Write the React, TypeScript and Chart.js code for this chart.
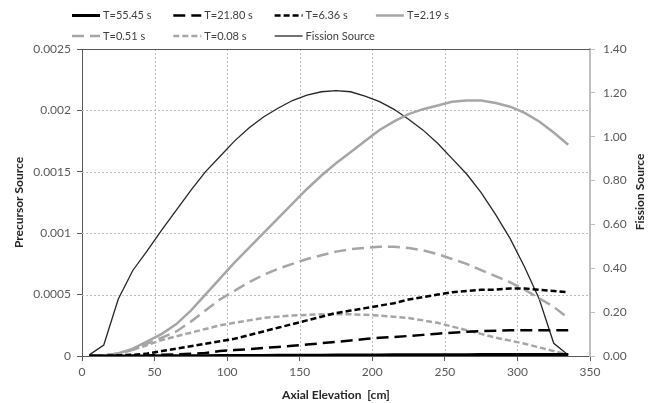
import React, { useEffect, useRef } from 'react';
import { Chart, registerables } from 'chart.js';

Chart.register(...registerables);

const FONT = 'Lato, "Open Sans", sans-serif';

const elevation = [5, 15, 25, 35, 45, 55, 65, 75, 85, 95, 105, 115, 125, 135, 145, 155, 165, 175, 185, 195, 205, 215, 225, 235, 245, 255, 265, 275, 285, 295, 305, 315, 325, 335];

const t5545 = [0, 0, 0, 0.000001, 0.000001, 0.000002, 0.000002, 0.000003, 0.000003, 0.000004, 0.000004, 0.000005, 0.000005, 0.000006, 0.000006, 0.000007, 0.000007, 0.000008, 0.000008, 0.000009, 0.000009, 0.00001, 0.00001, 0.00001, 0.000011, 0.000011, 0.000011, 0.000012, 0.000012, 0.000012, 0.000012, 0.000012, 0.000012, 0.000012];
const t2180 = [0, 0, 0, 0.000002, 0.000005, 0.00001, 0.000013, 0.000018, 0.000025, 0.00004, 0.000048, 0.000056, 0.000065, 0.000074, 0.000083, 0.000093, 0.000104, 0.000115, 0.000126, 0.000138, 0.000148, 0.000155, 0.000163, 0.000172, 0.000182, 0.00019, 0.000197, 0.000202, 0.000206, 0.000209, 0.00021, 0.00021, 0.00021, 0.00021];
const t636 = [0, 0, 0.000005, 0.00001, 0.00002, 0.00004, 0.00006, 0.00008, 0.0001, 0.00012, 0.00014, 0.00017, 0.0002, 0.00023, 0.00026, 0.00029, 0.00032, 0.00035, 0.00037, 0.00039, 0.00041, 0.00043, 0.00046, 0.00048, 0.0005, 0.00052, 0.00053, 0.00054, 0.00054, 0.00055, 0.00055, 0.00054, 0.00053, 0.00052];
const t219 = [0, 0.000005, 0.00002, 0.00006, 0.00012, 0.00018, 0.00026, 0.00037, 0.0005, 0.00063, 0.00076, 0.00088, 0.001, 0.00112, 0.00124, 0.00136, 0.00147, 0.00157, 0.00166, 0.00175, 0.00184, 0.00191, 0.00197, 0.00201, 0.00204, 0.00207, 0.00208, 0.00208, 0.00206, 0.00203, 0.00198, 0.00191, 0.00182, 0.00172];
const t051 = [0, 0.000005, 0.00002, 0.00005, 0.0001, 0.00015, 0.0002, 0.00028, 0.00037, 0.00046, 0.00053, 0.0006, 0.00066, 0.00071, 0.00075, 0.00079, 0.00082, 0.00085, 0.00087, 0.00088, 0.00089, 0.00089, 0.00088, 0.00086, 0.00083, 0.00079, 0.00075, 0.0007, 0.00065, 0.0006, 0.00054, 0.00047, 0.0004, 0.00031];
const t008 = [0, 0.000005, 0.00002, 0.00005, 0.00009, 0.00013, 0.00016, 0.00019, 0.00022, 0.00025, 0.00027, 0.00029, 0.00031, 0.00032, 0.00033, 0.000335, 0.00034, 0.00034, 0.00034, 0.000335, 0.00033, 0.00032, 0.00031, 0.00029, 0.00027, 0.00024, 0.00021, 0.00018, 0.00015, 0.000125, 0.0001, 0.00007, 0.00004, 0.00001];
const fission = [0.005, 0.05, 0.26, 0.39, 0.48, 0.575, 0.665, 0.755, 0.84, 0.91, 0.98, 1.04, 1.09, 1.13, 1.165, 1.19, 1.205, 1.21, 1.205, 1.185, 1.16, 1.125, 1.08, 1.03, 0.97, 0.9, 0.83, 0.745, 0.645, 0.535, 0.405, 0.26, 0.058, 0.005];

const seriesLabels = ['T=55.45 s', 'T=21.80 s', 'T=6.36 s', 'T=2.19 s', 'T=0.51 s', 'T=0.08 s', 'Fission Source'];
const leftTickLabels = ['0', '0.0005', '0.001', '0.0015', '0.002', '0.0025'];
const rightTickLabels = ['0.00', '0.20', '0.40', '0.60', '0.80', '1.00', '1.20', '1.40'];
const xTitle = 'Axial Elevation  [cm]';
const leftTitle = 'Precursor Source';
const rightTitle = 'Fission Source';

const BLACK = '#000000';
const GREY = '#a6a6a6';
const GRID = '#bdbdbd';

export default function App() {
  const ref = useRef<HTMLCanvasElement>(null);

  useEffect(() => {
    const canvas = ref.current;
    if (!canvas) return;
    const toXY = (vals: number[]) => vals.map((v, i) => ({ x: elevation[i], y: v }));

    const overlayPlugin = {
      id: 'overlay',
      beforeDatasetsDraw(chart: any) {
        const ctx = chart.ctx as CanvasRenderingContext2D;
        const { left, right, top, bottom } = chart.chartArea;
        const xs = chart.scales.x;
        const ys = chart.scales.y;
        ctx.save();
        ctx.lineWidth = 1;
        ctx.strokeStyle = GRID;
        ctx.setLineDash([2, 2]);
        xs.ticks.forEach((t: any) => {
          const px = Math.round(xs.getPixelForValue(t.value)) + 0.5;
          if (px <= left + 1 || px >= right - 1) return;
          ctx.beginPath();
          ctx.moveTo(px, top);
          ctx.lineTo(px, bottom);
          ctx.stroke();
        });
        ys.ticks.forEach((t: any, i: number) => {
          const py = Math.round(ys.getPixelForValue(t.value)) + 0.5;
          if (i === 0) return;
          ctx.beginPath();
          if (i === ys.ticks.length - 1) {
            ctx.setLineDash([]);
            ctx.strokeStyle = '#595959';
          }
          ctx.moveTo(left, py);
          ctx.lineTo(right, py);
          ctx.stroke();
        });
        ctx.restore();
      },
      afterDraw(chart: any) {
        const ctx = chart.ctx as CanvasRenderingContext2D;
        ctx.save();
        chart.data.datasets.forEach((ds: any, i: number) => {
          const col = i % 4;
          const row = Math.floor(i / 4);
          const x0 = 72 + col * 101.3;
          const y = 15.5 + row * 20.5;
          ctx.beginPath();
          ctx.setLineDash(ds.borderDash || []);
          ctx.lineWidth = ds.borderWidth;
          ctx.strokeStyle = ds.borderColor;
          ctx.lineCap = 'butt';
          ctx.moveTo(x0, y);
          ctx.lineTo(x0 + 28, y);
          ctx.stroke();
          ctx.setLineDash([]);
          ctx.fillStyle = '#404040';
          ctx.font = '11px ' + FONT;
          ctx.textBaseline = 'middle';
          ctx.textAlign = 'left';
          ctx.fillText(ds.label, x0 + 31, y);
        });
        ctx.translate(640, 192);
        ctx.rotate(-Math.PI / 2);
        ctx.font = 'bold 12px ' + FONT;
        ctx.fillStyle = '#262626';
        ctx.textAlign = 'center';
        ctx.textBaseline = 'middle';
        ctx.fillText(rightTitle, 0, 0);
        ctx.restore();
      },
    };

    const mk = (label: string, vals: number[], color: string, width: number, dash: number[], axis: string) => ({
      label,
      data: toXY(vals),
      borderColor: color,
      backgroundColor: color,
      borderWidth: width,
      borderDash: dash,
      pointRadius: 0,
      pointHoverRadius: 0,
      tension: 0,
      fill: false,
      yAxisID: axis,
    });

    const chart = new Chart(canvas, {
      type: 'line',
      data: {
        datasets: [
          mk(seriesLabels[0], t5545, BLACK, 3, [], 'y'),
          mk(seriesLabels[1], t2180, BLACK, 2.5, [12, 6], 'y'),
          mk(seriesLabels[2], t636, BLACK, 2.5, [6, 3], 'y'),
          mk(seriesLabels[3], t219, GREY, 2.5, [], 'y'),
          mk(seriesLabels[4], t051, GREY, 2.5, [12, 6], 'y'),
          mk(seriesLabels[5], t008, GREY, 2.5, [6, 3], 'y'),
          mk(seriesLabels[6], fission, '#262626', 1.3, [], 'y1'),
        ],
      },
      options: {
        responsive: false,
        animation: false,
        events: [],
        layout: { padding: { top: 49, left: 0, right: 0, bottom: 0 } },
        plugins: {
          legend: { display: false },
          tooltip: { enabled: false },
        },
        scales: {
          x: {
            type: 'linear',
            position: 'bottom',
            min: 0,
            max: 350,
            ticks: {
              stepSize: 50,
              padding: 4,
              color: '#595959',
              font: { family: FONT, size: 12 },
              maxRotation: 0,
            },
            grid: {
              drawOnChartArea: false,
              tickLength: 5,
              tickColor: '#595959',
            },
            border: { color: '#595959', width: 1 },
            title: {
              display: true,
              text: xTitle,
              color: '#262626',
              font: { family: FONT, size: 12, weight: 'bold' },
              padding: { top: 0, bottom: 1 },
            },
            afterFit: (scale: any) => { scale.height = 47; },
          },
          y: {
            type: 'linear',
            position: 'left',
            min: 0,
            max: 0.0025,
            ticks: {
              stepSize: 0.0005,
              padding: 6,
              color: '#595959',
              font: { family: FONT, size: 12 },
              callback: (_v: any, i: number) => leftTickLabels[i],
            },
            grid: {
              drawOnChartArea: false,
              tickLength: 5,
              tickColor: '#595959',
            },
            border: { color: '#595959', width: 1 },
            title: {
              display: true,
              text: leftTitle,
              color: '#262626',
              font: { family: FONT, size: 12, weight: 'bold' },
              padding: { top: 12, bottom: 0 },
            },
            afterFit: (scale: any) => { scale.width = 82; },
          },
          y1: {
            type: 'linear',
            position: 'right',
            min: 0,
            max: 1.4,
            ticks: {
              stepSize: 0.2,
              padding: 8,
              color: '#595959',
              font: { family: FONT, size: 12 },
              callback: (_v: any, i: number) => rightTickLabels[i],
            },
            grid: {
              drawOnChartArea: false,
              tickLength: 5,
              tickColor: '#bfbfbf',
            },
            border: { color: '#bfbfbf', width: 2 },
            afterFit: (scale: any) => { scale.width = 68; },
          },
        },
      } as any,
      plugins: [overlayPlugin],
    });

    return () => chart.destroy();
  }, []);

  return (
    <div style={{ position: 'absolute', left: 0, top: 0, width: 658, height: 403, background: '#ffffff' }}>
      <canvas ref={ref} width={658} height={403} style={{ display: 'block' }} />
    </div>
  );
}
